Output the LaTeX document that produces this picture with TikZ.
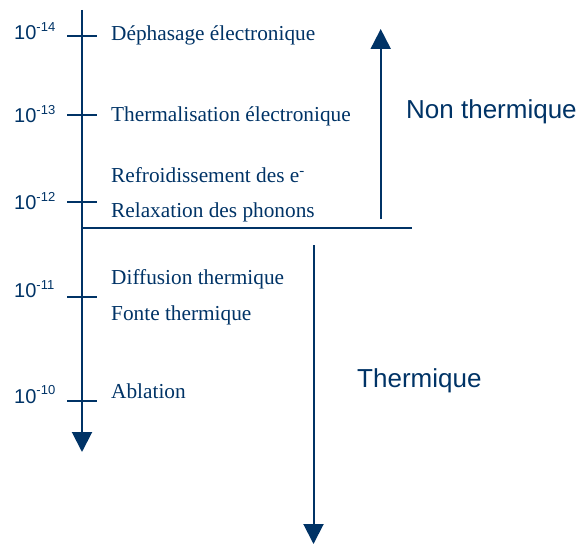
\documentclass[tikz,border=0pt]{standalone}
\usepackage{fontspec}
\setmainfont{Liberation Serif}
\setsansfont{Liberation Sans}
\usepackage{tikz}
\usetikzlibrary{
  arrows.meta  % pointes Triangle
}
\definecolor{marine}{RGB}{0,51,102}
\newcommand{\puiss}[1]{10\raisebox{8.5bp}{\fontsize{13bp}{13bp}\selectfont -#1}}
\tikzset{
  axe/.style={
    draw=marine,
    line width=2bp
  },
  fleche/.style={
    axe,
    -{Triangle[length=20bp,width=20bp]}
  },
  evenement/.style={
    anchor=base west,
    inner sep=0pt,
    text=marine,
    font=\fontsize{21.3bp}{24bp}\selectfont
  },
  puissance/.style={
    anchor=base west,
    inner sep=0pt,
    text=marine,
    font=\sffamily\fontsize{20bp}{22bp}\selectfont
  },
  regime/.style={
    anchor=base west,
    inner sep=0pt,
    text=marine,
    font=\sffamily\fontsize{26bp}{28bp}\selectfont
  }
}

\begin{document}
\begin{tikzpicture}[x=1bp, y=-1bp]
  \useasboundingbox (0,0) rectangle (581,544);

  % 1. axe des temps
  \coordinate (haut) at (82,10);
  \coordinate (bas) at (82,452);
  \draw[fleche] (haut) -- (bas);

  % 2. graduations et puissances de dix
  \foreach \nom/\y/\p/\yb in {a/36/14/40, b/115/13/122.7, c/202/12/210, d/297/11/297.7, e/401/10/403} {
    \coordinate (g\nom) at (82,\y);
    \draw[axe] ([xshift=-15bp]g\nom) -- ([xshift=15bp]g\nom);
    \node[puissance] (p\nom) at (14,\yb) {\puiss{\p}};
  }

  % 3. processus
  \node[evenement] (dephasage) at (111,40.5) {Déphasage électronique};
  \node[evenement] (thermal) at (111,122) {Thermalisation électronique};
  \node[evenement] (refroid) at (111,183) {Refroidissement des e\textsuperscript{-}};
  \node[evenement] (relax) at (111,218) {Relaxation des phonons};
  \node[evenement] (diffusion) at (111,284) {Diffusion thermique};
  \node[evenement] (fonte) at (111,320) {Fonte thermique};
  \node[evenement] (ablation) at (111,398) {Ablation};

  % 4. séparation des deux régimes
  \coordinate (sep g) at (82,228);
  \coordinate (sep d) at (412,228);
  \draw[axe] (sep g) -- (sep d);

  % 5. régime non thermique (vers le haut)
  \coordinate (nt bas) at (380.7,219);
  \coordinate (nt haut) at (380.7,29);
  \draw[fleche] (nt bas) -- (nt haut);
  \node[regime] (nonthermique) at (406,119) {Non thermique};

  % 6. régime thermique (vers le bas)
  \coordinate (th haut) at (313.5,245);
  \coordinate (th bas) at (313.5,544);
  \draw[fleche] (th haut) -- (th bas);
  \node[regime] (thermique) at (357,387) {Thermique};
\end{tikzpicture}
\end{document}
